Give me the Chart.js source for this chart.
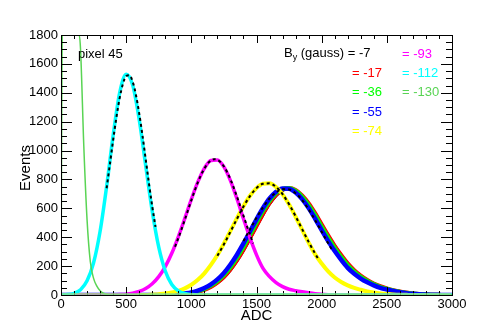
<!DOCTYPE html>
<html>
<head>
<meta charset="utf-8">
<script src="https://cdn.jsdelivr.net/npm/chart.js@4.4.0/dist/chart.umd.min.js"></script>
<style>
  html, body { margin: 0; padding: 0; background: #fff; }
  #wrap { width: 480px; height: 327px; }
</style>
</head>
<body>
<div id="wrap"><canvas id="chart" width="480" height="327"></canvas></div>
<script>
// ADC bins (step 50)
var adc = [0, 50, 100, 150, 200, 250, 300, 350, 400, 450, 500, 550, 600, 650, 700, 750, 800, 850, 900, 950,
    1000, 1050, 1100, 1150, 1200, 1250, 1300, 1350, 1400, 1450, 1500, 1550, 1600, 1650, 1700, 1750, 1800, 1850, 1900, 1950,
    2000, 2050, 2100, 2150, 2200, 2250, 2300, 2350, 2400, 2450, 2500, 2550, 2600, 2650, 2700, 2750, 2800, 2850, 2900, 2950, 3000];

// B_y = -7
var histM7 = [0, 0, 0, 0, 0, 0, 0, 0, 0, 0, 0, 0, 0, 0, 0, 0, 1, 2, 4, 8,
    13, 22, 35, 55, 84, 122, 173, 236, 309, 390, 474, 556, 630, 688, 724, 735, 722, 686, 632, 564,
    488, 411, 340, 276, 218, 171, 133, 103, 79, 60, 45, 33, 24, 16, 10, 6, 4, 2, 1, 0, 0];
// B_y = -17
var histM17 = [0, 0, 0, 0, 0, 0, 0, 0, 0, 0, 0, 0, 0, 0, 0, 0, 1, 2, 4, 8,
    13, 22, 36, 56, 85, 124, 176, 239, 313, 394, 478, 561, 636, 694, 730, 740, 727, 690, 636, 567,
    490, 413, 341, 277, 219, 172, 134, 104, 80, 61, 46, 34, 25, 17, 11, 7, 4, 2, 1, 0, 0];
// B_y = -36
var histM36 = [0, 0, 0, 0, 0, 0, 0, 0, 0, 0, 0, 0, 0, 0, 0, 0, 1, 2, 5, 9,
    15, 25, 41, 63, 95, 137, 192, 257, 333, 415, 500, 581, 651, 704, 735, 741, 722, 682, 624, 553,
    475, 398, 327, 264, 207, 163, 127, 98, 75, 57, 43, 32, 23, 15, 10, 6, 4, 2, 1, 0, 0];
// B_y = -55
var histM55 = [0, 0, 0, 0, 0, 0, 0, 0, 0, 0, 0, 0, 0, 0, 0, 0, 2, 3, 6, 11,
    18, 30, 48, 73, 108, 153, 211, 279, 357, 440, 524, 602, 668, 715, 738, 736, 710, 664, 602, 528,
    449, 373, 304, 243, 188, 147, 114, 88, 67, 50, 38, 28, 20, 13, 8, 5, 3, 2, 1, 0, 0];
// B_y = -74
var histM74 = [0, 0, 0, 0, 0, 0, 0, 0, 0, 0, 0, 0, 0, 0, 3, 6, 10, 17, 29, 46,
    71, 105, 150, 208, 277, 357, 444, 532, 615, 687, 740, 770, 773, 747, 697, 626, 542, 452, 363, 281,
    218, 163, 121, 90, 67, 49, 36, 25, 17, 11, 7, 4, 2, 1, 0, 0, 0, 0, 0, 0, 0];
// B_y = -93
var histM93 = [0, 0, 0, 0, 0, 0, 0, 0, 1, 3, 6, 13, 25, 45, 78, 127, 197, 289, 403, 530,
    662, 783, 877, 931, 935, 887, 792, 666, 528, 395, 278, 184, 127, 86, 58, 40, 30, 22, 15, 9,
    5, 2, 0, 0, 0, 0, 0, 0, 0, 0, 0, 0, 0, 0, 0, 0, 0, 0, 0, 0, 0];
// B_y = -112
var histM112 = [1, 3, 12, 37, 98, 223, 441, 751, 1104, 1399, 1529, 1453, 1215, 895, 580, 331, 166, 73, 29, 10,
    3, 0, 0, 0, 0, 0, 0, 0, 0, 0, 0, 0, 0, 0, 0, 0, 0, 0, 0, 0,
    0, 0, 0, 0, 0, 0, 0, 0, 0, 0, 0, 0, 0, 0, 0, 0, 0, 0, 0, 0, 0];
// B_y = -130 (runs off the top of the frame)
var adcLow = [0, 10, 140, 150, 175, 200, 225, 250, 275, 300, 325, 350, 400, 3000];
var histM130 = [0, 1800, 1800, 1700, 1030, 520, 230, 115, 62, 30, 12, 4, 0, 0];

// gaussian fits (dotted)
var fitCyanX = [350, 375, 400, 425, 450, 475, 500, 525, 550, 575, 600, 625, 650, 675, 700, 725];
var fitCyanY = [739, 905, 1073, 1229, 1363, 1461, 1516, 1521, 1476, 1385, 1258, 1105, 939, 771, 613, 471];
var fitMagX = [875, 900, 925, 950, 975, 1000, 1025, 1050, 1075, 1100, 1125, 1150, 1175, 1200, 1225, 1250, 1275, 1300, 1325, 1350, 1375, 1400, 1425, 1450, 1475];
var fitMagY = [334, 393, 456, 521, 589, 656, 720, 779, 832, 875, 909, 931, 940, 936, 919, 890, 850, 801, 744, 681, 616, 549, 482, 418, 357];
var fitYelX = [1200, 1250, 1300, 1350, 1400, 1450, 1500, 1550, 1600, 1650, 1700, 1750, 1800, 1850, 1900, 1950, 1980];
var fitYelY = [271, 351, 438, 527, 612, 685, 740, 770, 773, 748, 698, 628, 545, 456, 368, 286, 241];
var fitBluX = [1400, 1450, 1500, 1550, 1600, 1650, 1700, 1750, 1800, 1850, 1900, 1950, 2000, 2050, 2080];
var fitBluY = [373, 454, 534, 607, 668, 711, 733, 731, 705, 657, 593, 518, 438, 358, 312];

var xTicks = [0, 500, 1000, 1500, 2000, 2500, 3000];
var yTicks = [0, 200, 400, 600, 800, 1000, 1200, 1400, 1600, 1800];

var FONT = '"Liberation Sans", Arial, Helvetica, sans-serif';

function pts(xs, ys) {
    return xs.map(function(x, i) { return { x: x, y: ys[i] }; });
}

function hist(label, xs, ys, color, width, order) {
    return {
        label: label,
        data: pts(xs, ys),
        borderColor: color,
        borderWidth: width,
        pointRadius: 0,
        fill: false,
        cubicInterpolationMode: 'monotone',
        order: order
    };
}

function fit(xs, ys) {
    return {
        label: 'fit',
        data: pts(xs, ys),
        borderColor: '#000',
        borderWidth: 2,
        borderDash: [3, 3],
        pointRadius: 0,
        fill: false,
        cubicInterpolationMode: 'monotone',
        order: 0
    };
}

// ROOT style frame: ticks inside on all four sides, plus the text
var rootAxes = {
    id: 'rootAxes',
    afterDatasetsDraw: function(chart) {
        var ctx = chart.ctx, a = chart.chartArea;
        var xs = chart.scales.x, ys = chart.scales.y;
        ctx.save();
        ctx.strokeStyle = '#000';
        ctx.lineWidth = 1;
        ctx.strokeRect(Math.round(a.left) + 0.5, Math.round(a.top) + 0.5, Math.round(a.right - a.left), Math.round(a.bottom - a.top));
        ctx.beginPath();
        for (var v = 0; v <= 3000; v += 100) {
            var px = Math.round(xs.getPixelForValue(v)) + 0.5;
            var len = (v % 500 == 0) ? 8 : 4;
            ctx.moveTo(px, a.bottom); ctx.lineTo(px, a.bottom - len);
            ctx.moveTo(px, a.top); ctx.lineTo(px, a.top + len);
        }
        for (var w = 0; w <= 1800; w += 50) {
            var py = Math.round(ys.getPixelForValue(w)) + 0.5;
            var l2 = (w % 200 == 0) ? 11 : 6;
            ctx.moveTo(a.left, py); ctx.lineTo(a.left + l2, py);
            ctx.moveTo(a.right, py); ctx.lineTo(a.right - l2, py);
        }
        ctx.stroke();

        // light green baseline sits just above the frame in the original
        ctx.strokeStyle = '#8fe08c';
        ctx.lineWidth = 1.5;
        ctx.beginPath();
        ctx.moveTo(a.left + 1, a.bottom - 1);
        ctx.lineTo(a.right - 1, a.bottom - 1);
        ctx.stroke();

        // axis titles
        ctx.fillStyle = '#000';
        ctx.font = '15px ' + FONT;
        ctx.textAlign = 'center';
        ctx.textBaseline = 'alphabetic';
        ctx.fillText('ADC', (a.left + a.right) / 2, 320);
        ctx.save();
        ctx.translate(30, 168);
        ctx.rotate(-Math.PI / 2);
        ctx.fillText('Events', 0, 0);
        ctx.restore();

        // legend text
        ctx.textAlign = 'left';
        ctx.font = '13px ' + FONT;
        ctx.fillText('pixel 45', 78, 58);
        var bx = 284;
        ctx.fillText('B', bx, 57);
        bx += ctx.measureText('B').width;
        ctx.font = '9px ' + FONT;
        ctx.fillText('y', bx, 60);
        bx += ctx.measureText('y').width;
        ctx.font = '13px ' + FONT;
        ctx.fillText(' (gauss) = -7', bx, 57);

        var entries = [
            ['= -93', '#ff00ff', 402, 58],
            ['= -17', '#ff0000', 352, 77],
            ['= -112', '#00ffff', 402, 77],
            ['= -36', '#00ff00', 352, 96],
            ['= -130', '#59d454', 402, 96],
            ['= -55', '#0000ff', 352, 116],
            ['= -74', '#ffff00', 352, 135]
        ];
        entries.forEach(function(e) {
            ctx.fillStyle = e[1];
            ctx.fillText(e[0], e[2], e[3]);
        });
        ctx.restore();
    }
};

var ctx = document.getElementById("chart").getContext("2d");
var chart = new Chart(ctx, {
    type: 'line',
    data: {
        datasets: [
            fit(fitCyanX, fitCyanY),
            fit(fitMagX, fitMagY),
            fit(fitYelX, fitYelY),
            fit(fitBluX, fitBluY),
            hist('-130', adcLow, histM130, '#59d454', 1.5, 1),
            hist('-112', adc, histM112, '#00ffff', 3.5, 2),
            hist('-93', adc, histM93, '#ff00ff', 3.5, 3),
            hist('-74', adc, histM74, '#ffff00', 4, 4),
            hist('-55', adc, histM55, '#0000ff', 4.5, 5),
            hist('-36', adc, histM36, '#00ff00', 4, 6),
            hist('-17', adc, histM17, '#ff0000', 4, 7),
            hist('-7', adc, histM7, '#000000', 3, 8)
        ]
    },
    options: {
        responsive: false,
        animation: false,
        layout: { padding: { left: 0, top: 35, right: 28, bottom: 0 } },
        plugins: {
            legend: { display: false },
            tooltip: { enabled: false }
        },
        scales: {
            x: {
                type: 'linear',
                min: 0,
                max: 3000,
                afterBuildTicks: function(scale) {
                    scale.ticks = xTicks.map(function(v) { return { value: v }; });
                },
                afterFit: function(scale) { scale.height = 32; },
                grid: { display: false, drawTicks: false },
                border: { display: false },
                ticks: {
                    padding: 2,
                    maxRotation: 0,
                    autoSkip: false,
                    color: '#000',
                    font: { family: FONT, size: 13 },
                    callback: function(v) { return String(v); }
                }
            },
            y: {
                type: 'linear',
                min: 0,
                max: 1800,
                afterBuildTicks: function(scale) {
                    scale.ticks = yTicks.map(function(v) { return { value: v }; });
                },
                afterFit: function(scale) { scale.width = 61; },
                grid: { display: false, drawTicks: false },
                border: { display: false },
                ticks: {
                    padding: 3,
                    autoSkip: false,
                    color: '#000',
                    font: { family: FONT, size: 13 },
                    callback: function(v) { return String(v); }
                }
            }
        }
    },
    plugins: [rootAxes]
});
</script>
</body>
</html>
